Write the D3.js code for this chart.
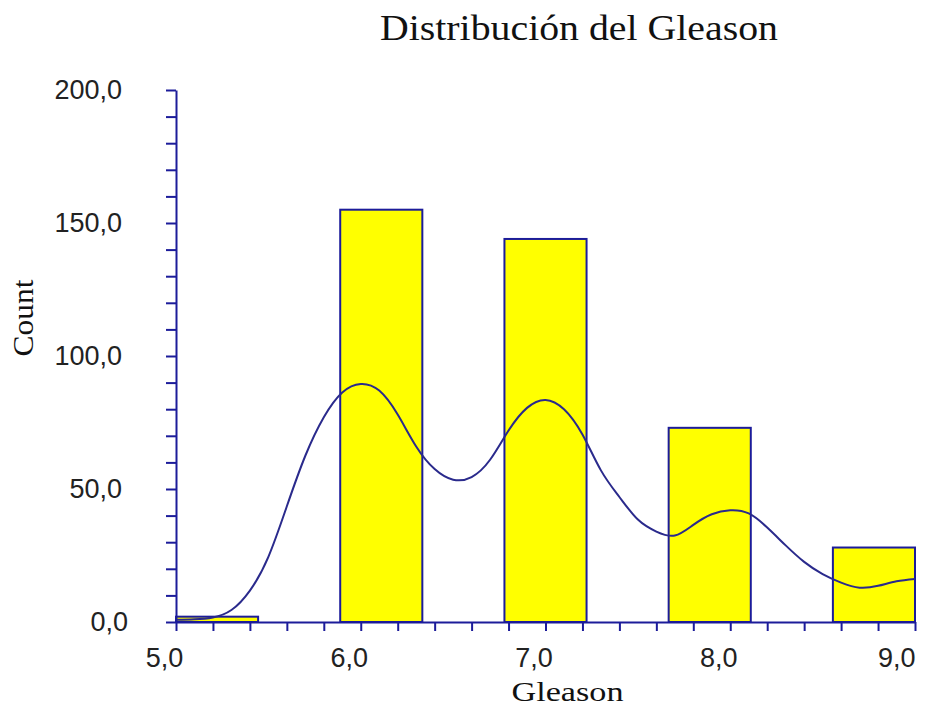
<!DOCTYPE html>
<html>
<head>
<meta charset="utf-8">
<script src="https://cdn.jsdelivr.net/npm/d3@7"></script>
<style>
  html, body { margin: 0; padding: 0; background: #ffffff; }
  svg { display: block; }
</style>
</head>
<body>
<svg id="chart" width="925" height="706"></svg>
<script>
// Histogram of Gleason scores (9 equal bins over 5–9) with a density curve
const binRange = [5, 9];
const binCounts = [2, 0, 155, 0, 144, 0, 73, 0, 28];

// Smoothed density curve, scaled to counts
const densityX = [5.0, 5.1, 5.2, 5.3, 5.4, 5.5, 5.6, 5.7, 5.8, 5.9,
                  6.0, 6.1, 6.2, 6.3, 6.4, 6.5, 6.6, 6.7, 6.8, 6.9,
                  7.0, 7.1, 7.2, 7.3, 7.4, 7.5, 7.6, 7.7, 7.8, 7.9,
                  8.0, 8.1, 8.2, 8.3, 8.4, 8.5, 8.6, 8.7, 8.8, 8.9, 9.0];
const densityY = [0.8, 1.0, 1.7, 4.5, 11.8, 24.5, 43.5, 62.5, 77, 86.3,
                  89.5, 87, 78, 66, 57.5, 53.5, 54.5, 61, 72, 80.5,
                  83.5, 80, 70.5, 57, 47, 38.5, 34, 32.5, 36.5, 40.5,
                  42, 40.8, 35.5, 28.8, 22.6, 18, 14.8, 12.9, 13.6, 15.3, 16.2];

const yTicks = [0, 50, 100, 150, 200];
const xTicks = [5, 6, 7, 8, 9];

const titleText = "Distribución del Gleason";
const xTitle = "Gleason";
const yTitle = "Count";

const navy = "#1c1c9a";
const sans = "'Liberation Sans', Arial, sans-serif";
const serif = "'Liberation Serif', 'Times New Roman', serif";

const svg = d3.select("#chart");
const x = d3.scaleLinear().domain([5, 9]).range([176, 915]);
const y = d3.scaleLinear().domain([0, 200]).range([622, 90]);
const fmt = v => d3.format(".1f")(v).replace(".", ",");

// Bars
const nb = binCounts.length;
const bw = (binRange[1] - binRange[0]) / nb;
const bins = binCounts.map((c, i) => ({ x0: binRange[0] + i * bw, x1: binRange[0] + (i + 1) * bw, c }))
  .filter(d => d.c > 0);

svg.append("g").selectAll("rect").data(bins).join("rect")
  .attr("x", d => x(d.x0))
  .attr("y", d => y(d.c))
  .attr("width", d => x(d.x1) - x(d.x0))
  .attr("height", d => y(0) - y(d.c))
  .attr("fill", "#ffff00")
  .attr("stroke", navy)
  .attr("stroke-width", 2);

// Density curve
const line = d3.line()
  .x((d, i) => x(densityX[i]))
  .y(d => y(d))
  .curve(d3.curveNatural);

svg.append("path")
  .datum(densityY)
  .attr("d", line)
  .attr("fill", "none")
  .attr("stroke", "#2a2a8c")
  .attr("stroke-width", 2);

// Y axis: minor ticks every 10, labels every 50
const yAxis = d3.axisLeft(y)
  .tickValues(d3.range(0, 21).map(i => i * 10))
  .tickSize(10)
  .tickSizeOuter(0)
  .tickPadding(44)
  .tickFormat(d => yTicks.includes(d) ? fmt(d) : "");

const gy = svg.append("g").attr("transform", "translate(176,0)").call(yAxis);

// X axis: minor ticks every 0.2, labels every 1
const xAxis = d3.axisBottom(x)
  .tickValues(d3.range(25, 46).map(i => i / 5))
  .tickSize(9)
  .tickSizeOuter(0)
  .tickPadding(17)
  .tickFormat(d => xTicks.some(t => Math.abs(t - d) < 1e-9) ? fmt(d) : "");

const gx = svg.append("g").attr("transform", "translate(0,622)").call(xAxis);

[gx, gy].forEach(g => {
  g.select(".domain").attr("stroke", navy).attr("stroke-width", 2);
  g.selectAll(".tick line").attr("stroke", navy).attr("stroke-width", 2);
  g.selectAll(".tick text")
    .attr("font-family", sans)
    .attr("font-size", 27)
    .attr("fill", "#222222");
});

// Label placement
gy.selectAll(".tick text").filter(d => d === 0).attr("dx", 6);
gx.selectAll(".tick text").attr("dx", -12);
gx.selectAll(".tick text").filter(d => d === 9).attr("text-anchor", "end").attr("dx", 0);

// Titles
svg.append("text")
  .attr("x", 579).attr("y", 40)
  .attr("text-anchor", "middle")
  .attr("font-family", serif)
  .attr("font-size", 36)
  .attr("textLength", 398)
  .attr("lengthAdjust", "spacingAndGlyphs")
  .attr("fill", "#111111")
  .text(titleText);

svg.append("text")
  .attr("x", 567.5).attr("y", 701)
  .attr("text-anchor", "middle")
  .attr("font-family", serif)
  .attr("font-size", 28)
  .attr("textLength", 112)
  .attr("lengthAdjust", "spacingAndGlyphs")
  .attr("fill", "#111111")
  .text(xTitle);

svg.append("text")
  .attr("transform", "translate(33,318) rotate(-90)")
  .attr("text-anchor", "middle")
  .attr("font-family", serif)
  .attr("font-size", 29)
  .attr("textLength", 77)
  .attr("lengthAdjust", "spacingAndGlyphs")
  .attr("fill", "#111111")
  .text(yTitle);
</script>
</body>
</html>
